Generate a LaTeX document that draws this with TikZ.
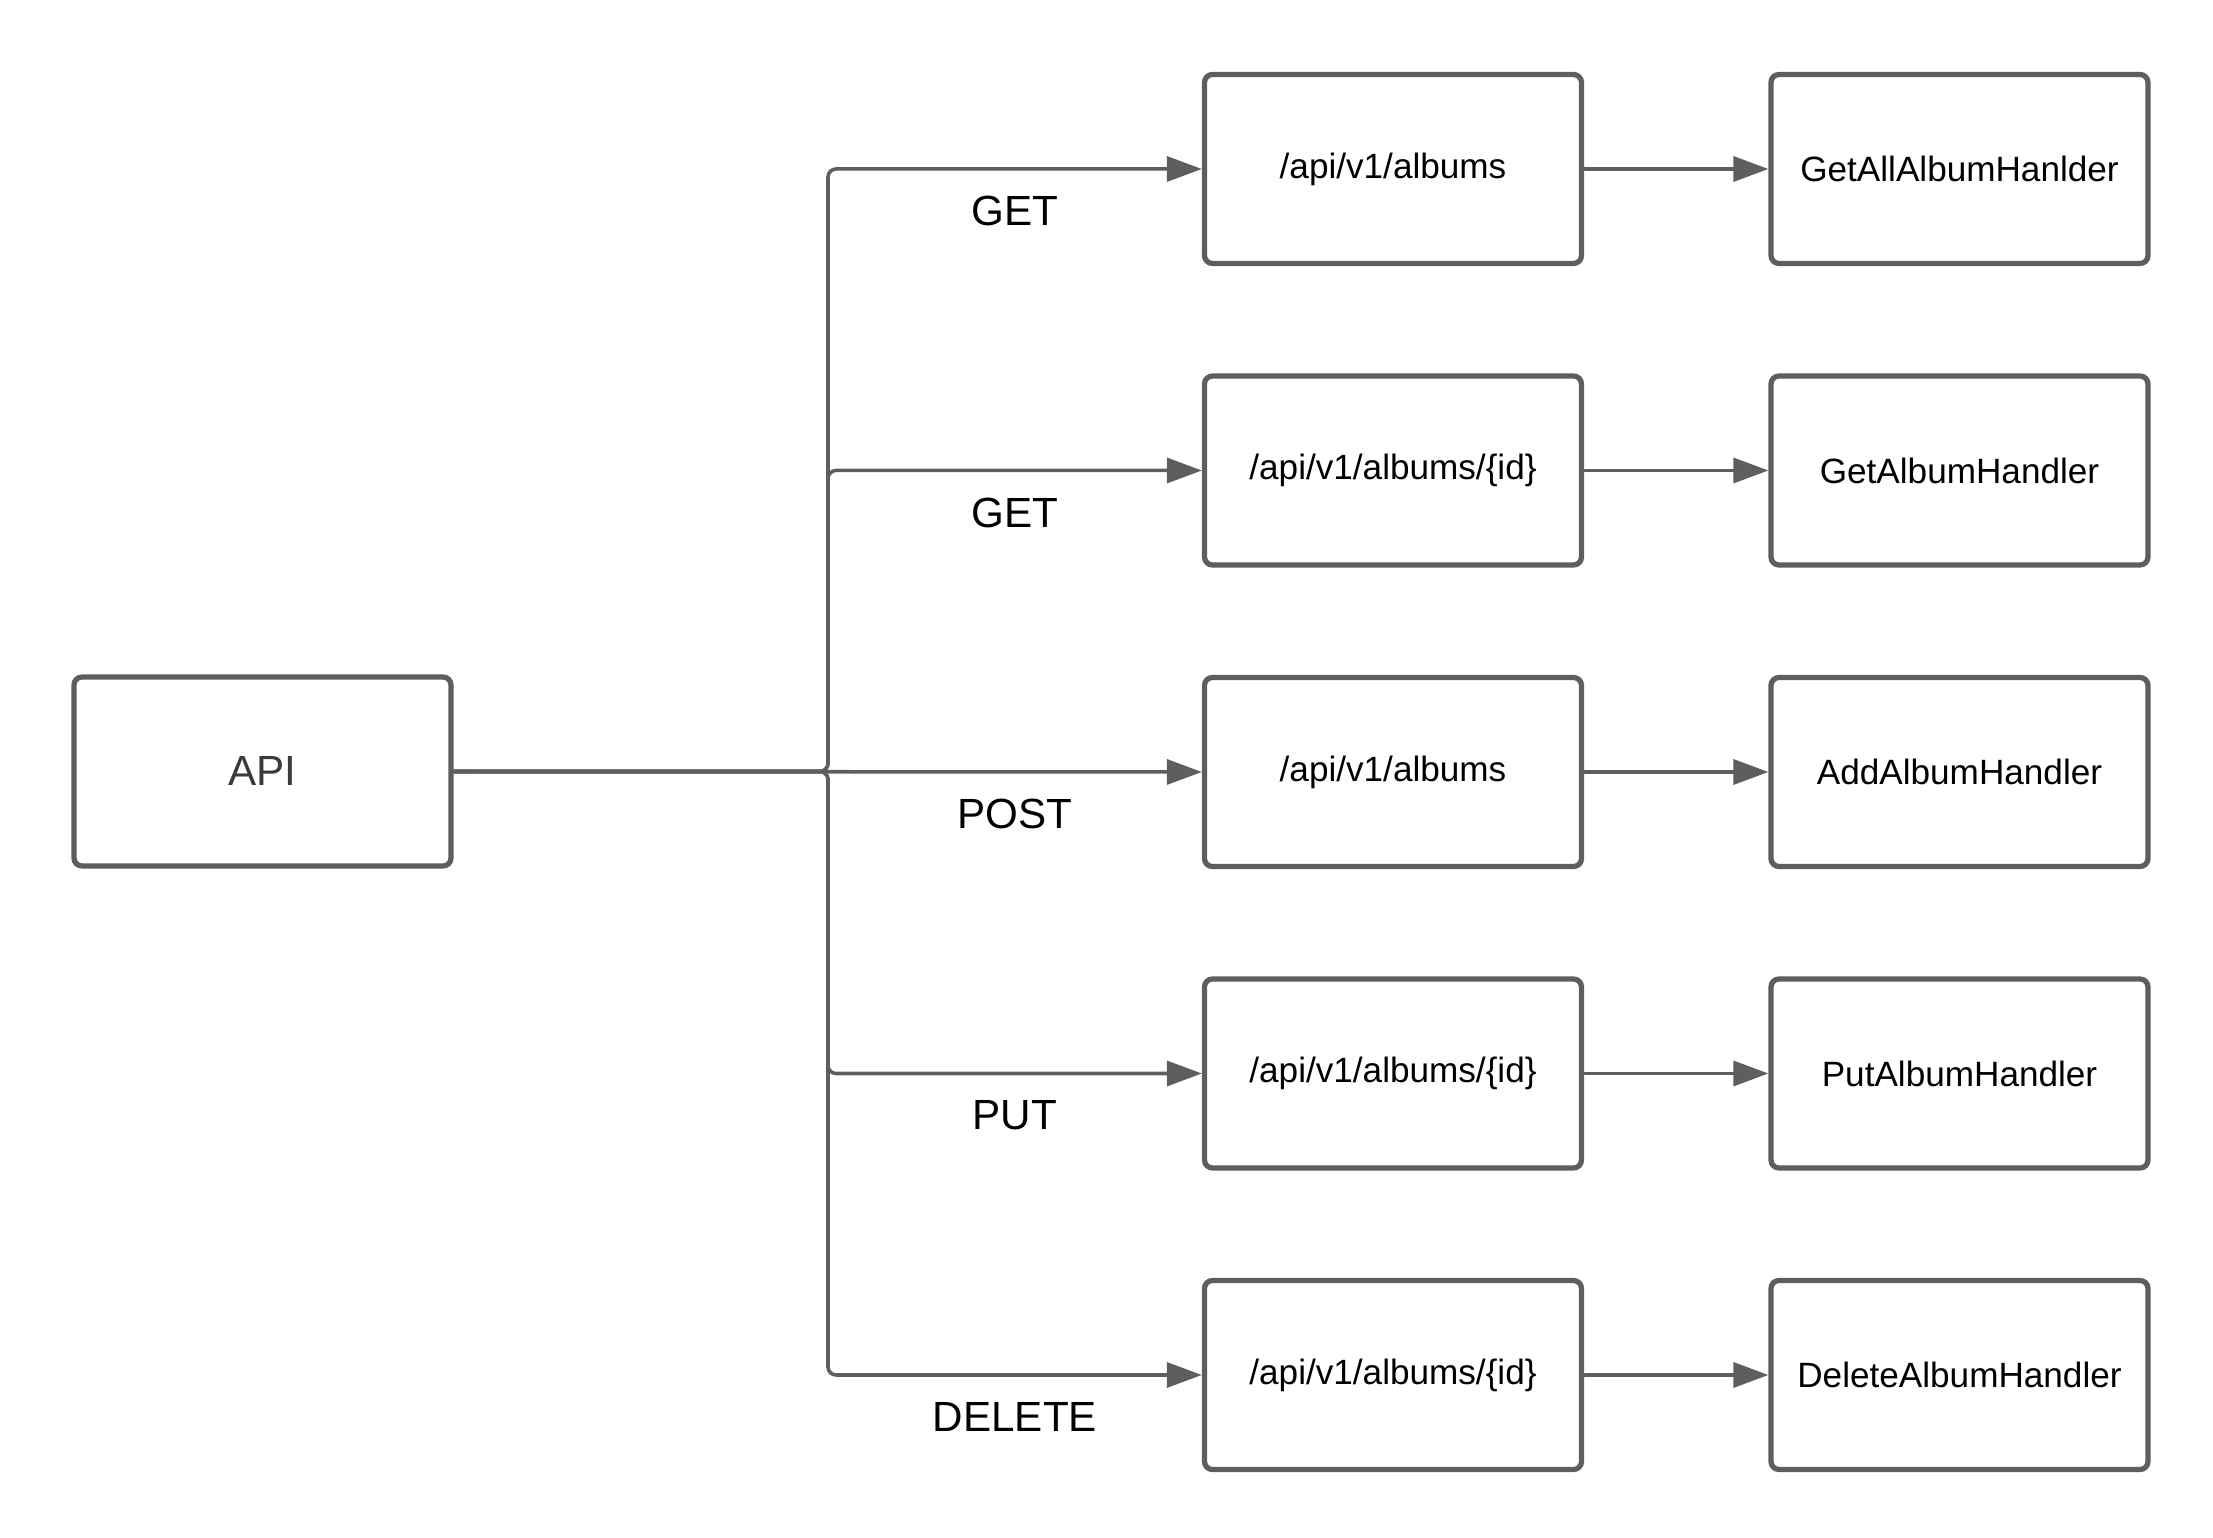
\documentclass[tikz,border=0pt]{standalone}
\usepackage{fontspec}
\setmainfont{Liberation Sans}
\usetikzlibrary{
  arrows.meta,
  calc,
  positioning
}
\definecolor{edge}{HTML}{5E5E5E}
\definecolor{apitext}{HTML}{3A3A3A}
\tikzset{
  % For the rounded boxes.
  box/.style={
    draw=edge,
    line width=1.5pt,
    rounded corners=0.08cm,
    minimum width=3.77cm,
    minimum height=1.89cm,
    inner sep=0pt,
    font=\fontsize{10}{12}\selectfont},
%
  % For plain connectors.
  line/.style={
    draw=edge,
    line width=1pt},
%
  % For connectors with one arrow.
  direction/.style={
    line,
    -{Triangle[length=0.35cm,width=0.25cm]}},
%
  % For connectors leaving the trunk.
  branch/.style={
    direction,
    rounded corners=0.08cm},
%
  % For the HTTP methods.
  method/.style={
    font=\fontsize{12}{14}\selectfont}
}

\begin{document}
\begin{tikzpicture}
  \useasboundingbox (0,0) rectangle (22.13,15.38);

  \node[box, font=\fontsize{12}{14}\selectfont, text=apitext] (api)
    at (2.625,7.665) {API};
  \coordinate (trunk) at (8.28,7.665);

  % One row per route; the nodes have the names 'route1', 'handler1', etc.
  \foreach \method/\route/\handler [count=\i] in
    {GET/{/api/v1/albums}/GetAllAlbumHanlder,
     GET/{/api/v1/albums/\{id\}}/GetAlbumHandler,
     POST/{/api/v1/albums}/AddAlbumHandler,
     PUT/{/api/v1/albums/\{id\}}/PutAlbumHandler,
     DELETE/{/api/v1/albums/\{id\}}/DeleteAlbumHandler}
    {\node[box] (route\i) at (13.93,{13.69-(\i-1)*3.015}) {\route};
     \node[box] (handler\i) at (19.595,{13.69-(\i-1)*3.015}) {\handler};

     \ifnum\i=3
       \draw[direction] (api.east) -- (route\i.west);
     \else
       \draw[branch] (api.east) -- (trunk) |- (route\i.west);
     \fi
     \node[method] (method\i)
       at ($($(trunk |- route\i.west)!0.5!(route\i.west)$) + (0,-0.42)$)
       {\method};

     \draw[direction] (route\i) -- (handler\i);
    }
\end{tikzpicture}
\end{document}
